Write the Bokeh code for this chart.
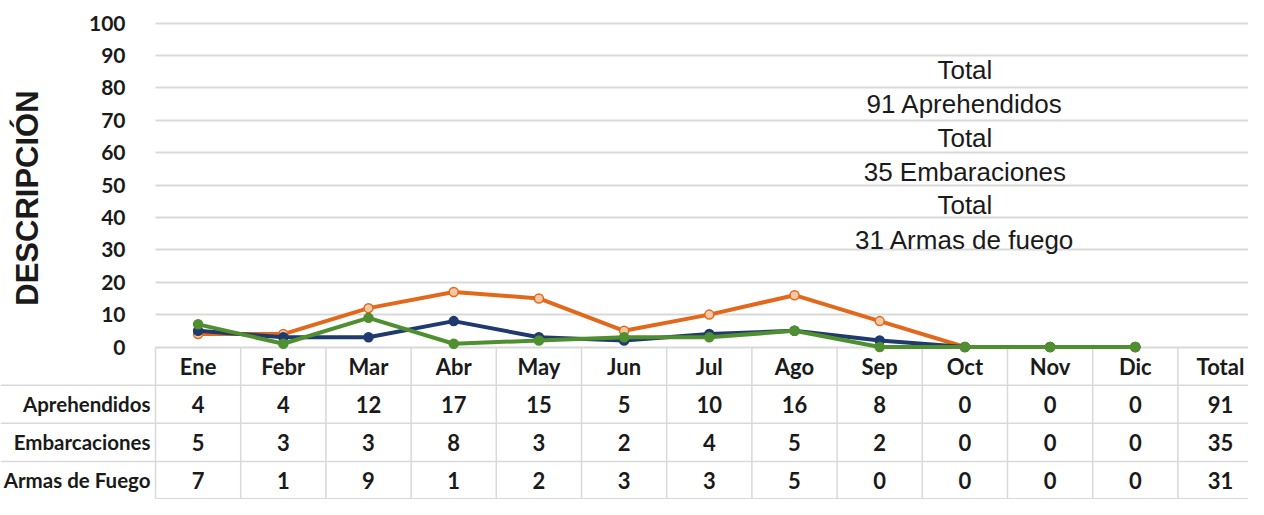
import math
from bokeh.plotting import figure
from bokeh.models import LinearAxis, FixedTicker, Grid, ColumnDataSource, Range1d
from bokeh.embed import file_html
from bokeh.resources import INLINE
from bokeh.core.properties import value

# ---------------- data ----------------
months = ["Ene", "Febr", "Mar", "Abr", "May", "Jun", "Jul", "Ago", "Sep", "Oct", "Nov", "Dic"]
total_header = "Total"
series_names = ["Aprehendidos", "Embarcaciones", "Armas de Fuego"]
aprehendidos = [4, 4, 12, 17, 15, 5, 10, 16, 8, 0, 0, 0]
embarcaciones = [5, 3, 3, 8, 3, 2, 4, 5, 2, 0, 0, 0]
armas = [7, 1, 9, 1, 2, 3, 3, 5, 0, 0, 0, 0]
y_ticks = [0, 10, 20, 30, 40, 50, 60, 70, 80, 90, 100]
y_title = "DESCRIPCIÓN"
note_lines = ["Total", "91 Aprehendidos", "Total", "35 Embaraciones", "Total", "31 Armas de fuego"]

# ---------------- layout ----------------
W, H = 1248, 499
col_px = 85.2
left_px = 155.0
ncols = len(months) + 1
x_start = -left_px / col_px
x_end = (W - left_px) / col_px
top_px = 22.7                     # position of the 100 gridline
px_per_unit = 3.238
y_end = 100 + top_px / px_per_unit
y_start = -(H - top_px - 100 * px_per_unit) / px_per_unit
row_h = -y_start / 4.0

ORANGE = "#E2691C"
BLUE = "#1F3A6E"
GREEN = "#4F8F2F"
GRID = "#D9D9D9"
TXT = "#1A1A1A"

p = figure(width=W, height=H, output_backend="svg", toolbar_location=None,
           x_axis_type=None, y_axis_type=None,
           x_range=Range1d(x_start, x_end), y_range=Range1d(y_start, y_end),
           min_border_left=0, min_border_right=0, min_border_top=0, min_border_bottom=0)
p.outline_line_color = None
p.background_fill_color = "white"
p.border_fill_color = "white"

# grid lines only over chart area
grid = Grid(dimension=1, ticker=FixedTicker(ticks=y_ticks), grid_line_color=GRID,
            grid_line_width=2, cross_bounds=(0, ncols))
p.add_layout(grid)

# y axis placed at the left edge of the chart area
yaxis = LinearAxis(fixed_location=0, ticker=FixedTicker(ticks=y_ticks), bounds=(0, 100),
                   axis_line_color=None, major_tick_line_color=None, minor_tick_line_color=None,
                   major_label_standoff=24, major_label_text_font="Lato",
                   major_label_text_font_style="bold", major_label_text_font_size="21px",
                   major_label_text_color=TXT)
p.add_layout(yaxis, "left")

# table lines
row_bounds = [-(k + 1) * row_h for k in range(3)]
p.segment(x0=[x_start] * len(row_bounds), x1=[x_end] * len(row_bounds),
          y0=row_bounds, y1=row_bounds, line_color=GRID, line_width=1.5)
p.segment(x0=[0], x1=[x_end], y0=[y_start + 0.2], y1=[y_start + 0.2], line_color=GRID, line_width=1.5)
vx = list(range(0, ncols + 1))
p.segment(x0=vx, x1=vx, y0=[0] * len(vx), y1=[y_start] * len(vx), line_color=GRID, line_width=1.5)

# lines
xs = [i + 0.5 for i in range(len(months))]
for vals, col, fill in ((aprehendidos, ORANGE, "#F6C7A4"), (embarcaciones, BLUE, BLUE), (armas, GREEN, GREEN)):
    src = ColumnDataSource(dict(x=xs, y=vals))
    p.line("x", "y", source=src, line_color=col, line_width=4, line_join="round")
    p.scatter("x", "y", source=src, size=9, fill_color=fill, line_color=col, line_width=1.5)

# header row
hdr = months + [total_header]
p.text(x=[i + 0.5 for i in range(ncols)], y=[-row_h / 2] * ncols, text=hdr,
       text_align="center", text_baseline="middle", text_font=value("Lato"),
       text_font_size="22px", text_font_style="bold", text_color=TXT)

# data rows
for r, (name, vals) in enumerate(zip(series_names, (aprehendidos, embarcaciones, armas))):
    yc = -(r + 1.5) * row_h
    cells = [str(v) for v in vals] + [str(sum(vals))]
    p.text(x=[i + 0.5 for i in range(ncols)], y=[yc] * ncols, text=cells,
           text_align="center", text_baseline="middle", text_font=value("Lato"),
           text_font_size="22px", text_font_style="bold", text_color=TXT)
    p.text(x=[0], y=[yc], text=[name], x_offset=-5,
           text_align="right", text_baseline="middle", text_font=value("Lato"),
           text_font_size="20.5px", text_font_style="bold", text_color=TXT)

# y title
p.text(x=[x_start], y=[46], text=[y_title], x_offset=27, angle=math.pi / 2,
       text_align="center", text_baseline="middle", text_font=value("Liberation Sans"),
       text_font_size="31px", text_font_style="bold", text_color=TXT)

# note
note_y = [85.4, 75.2, 64.6, 54.1, 44.0, 32.9]
p.text(x=[9.5] * len(note_lines), y=note_y, text=note_lines,
       text_align="center", text_baseline="middle", text_font=value("Liberation Sans"),
       text_font_size="26px", text_color=TXT)

open("out.html", "w").write(file_html(p, INLINE))
